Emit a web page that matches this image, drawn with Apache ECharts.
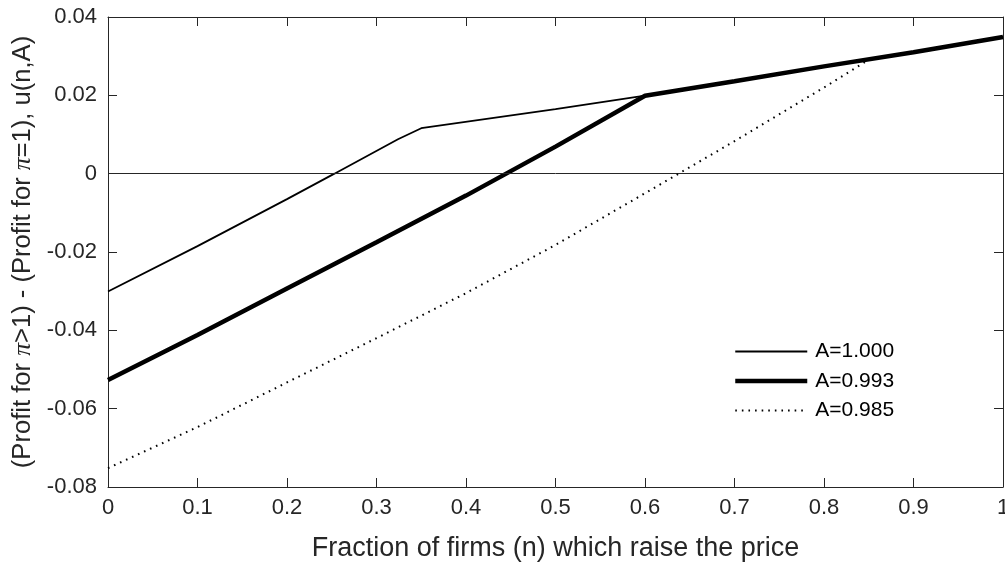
<!DOCTYPE html>
<html>
<head>
<meta charset="utf-8">
<script src="https://cdn.jsdelivr.net/npm/echarts@6/dist/echarts.min.js"></script>
<style>
html,body{margin:0;padding:0;background:#fff;}
#chart{width:1005px;height:563px;}
</style>
</head>
<body>
<div id="chart"></div>
<script>
// ---- data ----
const seriesNames = ['A=1.000', 'A=0.993', 'A=0.985'];

const nA1000 = [0, 0.1, 0.2, 0.253, 0.324, 0.35, 0.5, 0.6, 0.7, 0.8, 0.9, 1.0];
const uA1000 = [-0.0301, -0.0185, -0.0065, 0, 0.0088, 0.0116, 0.0165, 0.0199, 0.0236, 0.0274, 0.0310, 0.0349];

const nA0993 = [0, 0.1, 0.2, 0.3, 0.4, 0.5, 0.6, 0.7, 0.8, 0.9, 1.0];
const uA0993 = [-0.0527, -0.0412, -0.0293, -0.0175, -0.0056, 0.0069, 0.0199, 0.0236, 0.0274, 0.0310, 0.0349];

const nA0985 = [0, 0.1, 0.2, 0.3, 0.4, 0.5, 0.6, 0.7, 0.8, 0.85, 0.9, 1.0];
const uA0985 = [-0.0752, -0.0647, -0.0533, -0.0420, -0.0305, -0.0182, -0.0050, 0.0083, 0.0220, 0.0291, 0.0310, 0.0349];

const xTickLabels = ['0', '0.1', '0.2', '0.3', '0.4', '0.5', '0.6', '0.7', '0.8', '0.9', '1'];
const yTickLabels = ['-0.08', '-0.06', '-0.04', '-0.02', '0', '0.02', '0.04'];

const xTitle = 'Fraction of firms (n) which raise the price';
const yTitle = '(Profit for {pi|π}>1) - (Profit for {pi|π}=1), u(n,A)';

// ---- chart ----
const FONT = "'Liberation Sans', Arial, Helvetica, sans-serif";
const TXT = '#262626';
const AX = '#262626';

function pairs(xs, ys) { return xs.map((x, i) => [x, ys[i]]); }

const xMin = 0, xMax = 1, xInt = 0.1;
const yMin = -0.08, yMax = 0.04, yInt = 0.02;

const widths = [1.8, 4.5, 2];
const types = ['solid', 'solid', [1.6, 5]];

const axisLineStyle = { lineStyle: { color: AX, width: 1 } };
const tickStyle = { show: true, inside: true, length: 9, lineStyle: { color: AX, width: 1 } };

const chart = echarts.init(document.getElementById('chart'), null, { renderer: 'canvas' });
chart.setOption({
  animation: false,
  backgroundColor: '#ffffff',
  textStyle: { fontFamily: FONT, color: TXT },
  grid: { left: 108, right: 2, top: 17, bottom: 76, containLabel: false, outerBoundsMode: 'none' },
  legend: {
    orient: 'vertical',
    left: 733,
    top: 341,
    padding: 0,
    itemWidth: 72,
    itemHeight: 14,
    itemGap: 8.5,
    itemStyle: { opacity: 0 },
    data: seriesNames.map((nm, i) => ({
      name: nm,
      itemStyle: { opacity: 0 },
      lineStyle: { width: widths[i], type: types[i], color: '#000' }
    })),
    textStyle: { fontFamily: FONT, fontSize: 21, color: '#000', padding: [0, 0, 0, 3] },
    selectedMode: false
  },
  xAxis: [
    {
      type: 'value', min: xMin, max: xMax, interval: xInt, position: 'bottom',
      axisLine: { show: true, onZero: false, ...axisLineStyle },
      axisTick: tickStyle,
      splitLine: { show: false },
      axisLabel: {
        margin: 10, fontSize: 22, color: TXT, fontFamily: FONT,
        formatter: v => xTickLabels[Math.round(v / xInt)]
      },
      name: xTitle, nameLocation: 'middle', nameGap: 48,
      nameTextStyle: { fontSize: 27, color: TXT, fontFamily: FONT }
    },
    {
      type: 'value', min: xMin, max: xMax, interval: xInt, position: 'top',
      axisLine: { show: true, onZero: false, ...axisLineStyle },
      axisTick: tickStyle,
      splitLine: { show: false },
      axisLabel: { show: false }
    }
  ],
  yAxis: [
    {
      type: 'value', min: yMin, max: yMax, interval: yInt, position: 'left',
      axisLine: { show: true, onZero: false, ...axisLineStyle },
      axisTick: tickStyle,
      splitLine: { show: false },
      axisLabel: {
        margin: 11, fontSize: 22, color: TXT, fontFamily: FONT,
        formatter: v => yTickLabels[Math.round((v - yMin) / yInt)]
      },
      name: yTitle, nameLocation: 'middle', nameGap: 71,
      nameTextStyle: {
        fontSize: 25.6, color: TXT, fontFamily: FONT,
        rich: { pi: { fontFamily: "'Liberation Serif', 'Times New Roman', serif", fontStyle: 'italic', fontSize: 25.6, color: TXT } }
      }
    },
    {
      type: 'value', min: yMin, max: yMax, interval: yInt, position: 'right',
      axisLine: { show: true, onZero: false, ...axisLineStyle },
      axisTick: tickStyle,
      splitLine: { show: false },
      axisLabel: { show: false }
    }
  ],
  series: [
    {
      name: seriesNames[0], type: 'line', data: pairs(nA1000, uA1000),
      xAxisIndex: 0, yAxisIndex: 0,
      symbol: 'none', smooth: false,
      lineStyle: { color: '#000', width: widths[0], type: types[0] },
      itemStyle: { color: '#000' },
      markLine: {
        silent: true, symbol: ['none', 'none'], label: { show: false },
        lineStyle: { color: AX, width: 1, type: 'solid' },
        data: [{ yAxis: 0 }]
      },
      z: 3
    },
    {
      name: seriesNames[1], type: 'line', data: pairs(nA0993, uA0993),
      xAxisIndex: 0, yAxisIndex: 0,
      symbol: 'none', smooth: false,
      lineStyle: { color: '#000', width: widths[1], type: types[1] },
      itemStyle: { color: '#000' },
      z: 4
    },
    {
      name: seriesNames[2], type: 'line', data: pairs(nA0985, uA0985),
      xAxisIndex: 0, yAxisIndex: 0,
      symbol: 'none', smooth: false,
      lineStyle: { color: '#000', width: widths[2], type: types[2] },
      itemStyle: { color: '#000' },
      z: 5
    }
  ]
});
</script>
</body>
</html>
